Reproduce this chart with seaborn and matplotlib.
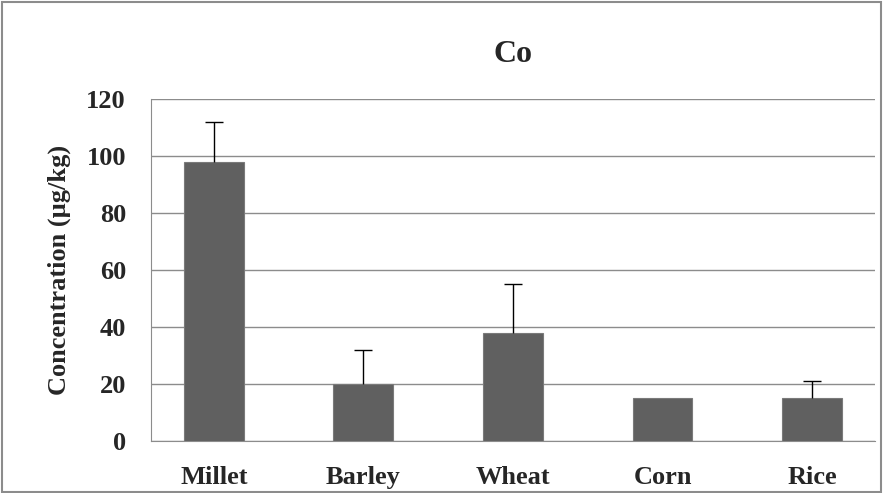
import numpy as np
import pandas as pd
import seaborn as sns
import matplotlib.pyplot as plt
from matplotlib.patches import Rectangle

# data
grains = ['Millet', 'Barley', 'Wheat', 'Corn', 'Rice']
conc = [98, 20, 38, 15, 15]
err_up = [14, 12, 17, 0, 6]

sns.set_style('white')
plt.rcParams['font.family'] = ['Liberation Serif', 'DejaVu Serif']
plt.rcParams['font.weight'] = 'bold'

df = pd.DataFrame({'grain': grains, 'conc': conc, 'err': err_up})

fig = plt.figure(figsize=(8.85, 4.93), dpi=100)
ax = fig.add_axes([0.1706, 0.1055, 0.8181, 0.6935])

sns.barplot(data=df, x='grain', y='conc', color='#606060', saturation=1,
            width=0.4, edgecolor='#7a7a7a', linewidth=0.8, ax=ax, zorder=3)

# upper-only error bars (skip bars without an error value)
has_err = df['err'] > 0
xpos = np.arange(len(df))[has_err]
eb = ax.errorbar(xpos, df.loc[has_err, 'conc'],
                 yerr=[np.zeros(has_err.sum()), df.loc[has_err, 'err']],
                 fmt='none', ecolor='black', elinewidth=1, capsize=6.5,
                 capthick=1, zorder=4)
eb.lines[1][0].set_visible(False)  # hide the lower caps

ax.set_ylim(0, 120)
ax.set_yticks(range(0, 121, 20))
ax.yaxis.grid(True, color='#8c8c8c', linewidth=1)
ax.set_axisbelow(True)
for s in ['top', 'right']:
    ax.spines[s].set_visible(False)
ax.spines['left'].set_color('#8c8c8c')
ax.spines['bottom'].set_color('#8c8c8c')
ax.tick_params(axis='both', length=0, labelsize=19)
ax.tick_params(axis='y', pad=18)
ax.tick_params(axis='x', pad=18)
for lab in ax.get_xticklabels() + ax.get_yticklabels():
    lab.set_fontweight('bold')

ax.set_xlabel('')
ax.set_ylabel('Concentration (µg/kg)', fontsize=19, fontweight='bold', labelpad=11)
ax.set_title('Co', fontsize=23, fontweight='bold', pad=27)

# outer chart border
fig.patches.append(Rectangle((0.002, 0.002), 0.994, 0.994, transform=fig.transFigure,
                             fill=False, edgecolor='#8c8c8c', linewidth=1.5))

fig.savefig('out.png', dpi=100)
